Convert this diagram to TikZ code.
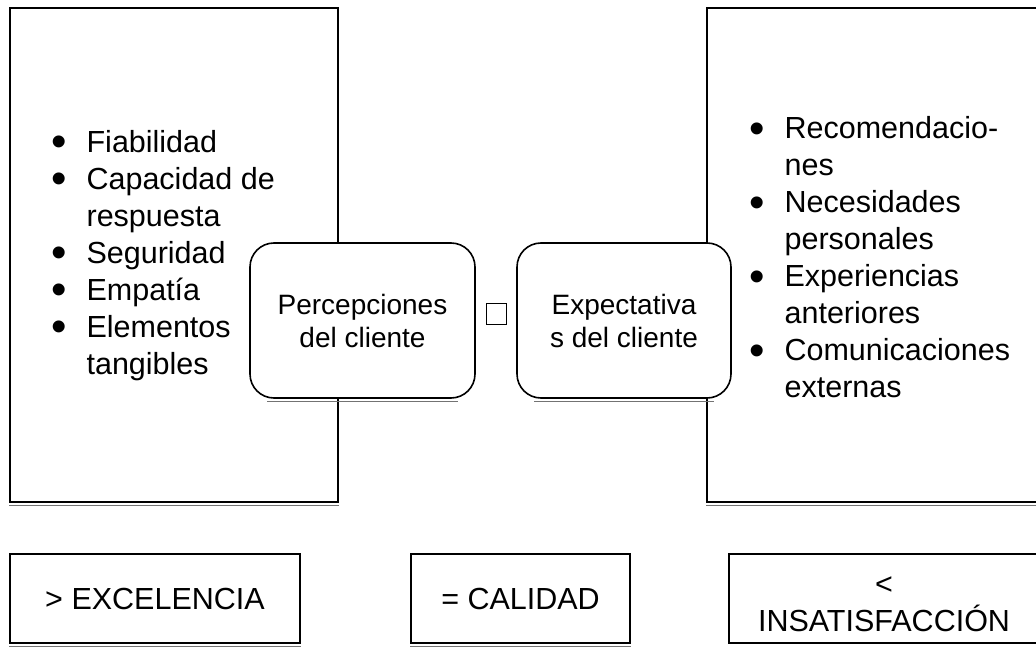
\documentclass[tikz,border=0pt]{standalone}
\usepackage{fontspec}
\setmainfont{Liberation Sans}
\usepackage{array}
\newcommand\bigbul{\raisebox{-4.5pt}{\fontsize{44}{44}\selectfont\textbullet}}
\begin{document}
\begin{tikzpicture}[x=1pt,y=1pt,
  bigbox/.style={draw,line width=1.6pt,fill=white,inner sep=0pt},
  roundbox/.style={draw,line width=1.6pt,fill=white,rounded corners=24pt,inner sep=0pt,
    align=center,font=\fontsize{28}{33}\selectfont},
  resbox/.style={draw,line width=1.6pt,fill=white,inner sep=0pt,align=center,
    font=\fontsize{30.5}{37}\selectfont},
  restext/.style={inner sep=0pt,align=center,font=\fontsize{30.5}{37}\selectfont},
  listtext/.style={inner sep=0pt,anchor=west,font=\fontsize{30.5}{37}\selectfont},
  minus/.style={draw,line width=1.3pt,inner sep=0pt,minimum width=20pt,minimum height=21pt},
  scan/.style={draw=black!55,line width=1pt}
]
\useasboundingbox (0,0) rectangle (1036,-647);
\clip (0,0) rectangle (1036,-647);
% big boxes
\node[bigbox,minimum width=328pt,minimum height=494pt] (L) at (174,-255) {};
\node[bigbox,minimum width=340pt,minimum height=494pt] (R) at (877,-255) {};
\draw[scan] ([yshift=-2.5pt]L.south west) -- ([yshift=-2.5pt]L.south east);
\draw[scan] ([yshift=-2.5pt]R.south west) -- ([yshift=-2.5pt]R.south east);
% lists
\node[listtext] (Llist) at (51,-256) {%
  \begin{tabular}{@{}l@{\hspace{20pt}}l@{}}
  \bigbul & Fiabilidad\\
  \bigbul & Capacidad de\\
   & respuesta\\
  \bigbul & Seguridad\\
  \bigbul & Empatía\\
  \bigbul & Elementos\\
   & tangibles
  \end{tabular}};
\node[listtext] (Rlist) at (749,-261) {%
  \begin{tabular}{@{}l@{\hspace{20pt}}l@{}}
  \bigbul & Recomendacio-\\
   & nes\\
  \bigbul & Necesidades\\
   & personales\\
  \bigbul & Experiencias\\
   & anteriores\\
  \bigbul & Comunicaciones\\
   & externas
  \end{tabular}};
% rounded boxes
\node[roundbox,minimum width=225pt,minimum height=155pt] (P) at (362.5,-320.5) {Percepciones\\del cliente};
\node[roundbox,minimum width=214pt,minimum height=155pt] (E) at (624,-320.5) {Expectativa\\s del cliente};
\draw[scan] ([xshift=18pt,yshift=-2.5pt]P.south west) -- ([xshift=-18pt,yshift=-2.5pt]P.south east);
\draw[scan] ([xshift=18pt,yshift=-2.5pt]E.south west) -- ([xshift=-18pt,yshift=-2.5pt]E.south east);
\node[minus] (op) at (496.5,-314) {};
% result boxes
\node[resbox,minimum width=290pt,minimum height=89pt] (X) at (155,-598.5) {> EXCELENCIA};
\node[resbox,minimum width=219pt,minimum height=89pt] (C) at (520.5,-598.5) {= CALIDAD};
\node[resbox,minimum width=320pt,minimum height=89pt] (I) at (889,-598.5) {};
\node[restext] (Itext) at ([xshift=-5pt,yshift=-6pt]I.center) {<\\INSATISFACCIÓN};
\draw[scan] ([yshift=-2.5pt]X.south west) -- ([yshift=-2.5pt]X.south east);
\draw[scan] ([yshift=-2.5pt]C.south west) -- ([yshift=-2.5pt]C.south east);
\end{tikzpicture}
\end{document}
